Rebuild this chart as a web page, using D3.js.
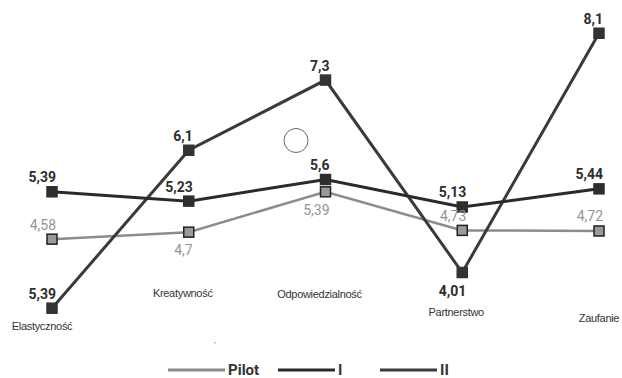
<!DOCTYPE html>
<html>
<head>
<meta charset="utf-8">
<script src="https://cdn.jsdelivr.net/npm/d3@7/dist/d3.min.js"></script>
<style>
  html, body { margin: 0; padding: 0; background: #fff; }
  svg { display: block; }
</style>
</head>
<body>
<svg id="chart" width="622" height="378"></svg>
<script>
// ---- data ----
const categories = ["Elastyczność", "Kreatywność", "Odpowiedzialność", "Partnerstwo", "Zaufanie"];
const seriesNames = ["Pilot", "I", "II"];
const pilotValues = [4.58, 4.7, 5.39, 4.73, 4.72];
const iValues = [5.39, 5.23, 5.6, 5.13, 5.44];
const iiValues = [3.4, 6.1, 7.3, 4.01, 8.1];          // plotted positions
const pilotLabels = ["4,58", "4,7", "5,39", "4,73", "4,72"];
const iLabels = ["5,39", "5,23", "5,6", "5,13", "5,44"];
const iiLabels = ["5,39", "6,1", "7,3", "4,01", "8,1"];

// ---- layout / style ----
const W = 622, H = 378;
const svg = d3.select("#chart");

const x = d3.scalePoint().domain(categories).range([52, 599]);
const y = d3.scaleLinear().domain([3, 8]).range([331.6, 39.1]);

const series = [
  { name: seriesNames[0], values: pilotValues, labels: pilotLabels, color: "#8c8c8c", width: 2.5,
    marker: "#9a9a9a", markerStroke: "#222", labelColor: "#959595", weight: 400,
    below: [false, true, true, false, false] },
  { name: seriesNames[1], values: iValues, labels: iLabels, color: "#2a2a2a", width: 3,
    marker: "#2e2e2e", markerStroke: "#2e2e2e", labelColor: "#2e2e2e", weight: 700,
    below: [false, false, false, false, false] },
  { name: seriesNames[2], values: iiValues, labels: iiLabels, color: "#3a3a3a", width: 3,
    marker: "#333", markerStroke: "#333", labelColor: "#2e2e2e", weight: 700,
    below: [false, false, false, true, false] }
];

// category label vertical positions (baseline, px)
const catLabelY = [330, 297, 298, 316, 322];

// decorative circle from the original picture
svg.append("circle").attr("cx", 296).attr("cy", 140.5).attr("r", 12)
  .attr("fill", "none").attr("stroke", "#666").attr("stroke-width", 1);
svg.append("rect").attr("x", 214).attr("y", 342).attr("width", 1.5).attr("height", 1.5).attr("fill", "#aaa");

const line = d3.line().x(d => x(d.c)).y(d => y(d.v));

// draw order: Pilot, II, I
[series[0], series[2], series[1]].forEach(s => {
  const pts = categories.map((c, i) => ({ c, v: s.values[i], lab: s.labels[i], below: s.below[i] }));
  const g = svg.append("g");
  g.append("path").datum(pts).attr("d", line)
    .attr("fill", "none").attr("stroke", s.color).attr("stroke-width", s.width)
    .attr("stroke-linejoin", "miter");
  g.selectAll("rect.m").data(pts).join("rect").attr("class", "m")
    .attr("x", d => x(d.c) - 5).attr("y", d => y(d.v) - 5)
    .attr("width", 10).attr("height", 10)
    .attr("fill", s.marker).attr("stroke", s.markerStroke).attr("stroke-width", 1.5);
});

// value labels
series.forEach(s => {
  const pts = categories.map((c, i) => ({ c, v: s.values[i], lab: s.labels[i], below: s.below[i] }));
  svg.append("g").selectAll("text").data(pts).join("text")
    .attr("x", d => x(d.c) + 4)
    .attr("y", d => d.below ? y(d.v) + 23 : y(d.v) - 9.5)
    .attr("text-anchor", "end")
    .attr("font-family", "Roboto, sans-serif")
    .attr("font-size", 14)
    .attr("font-weight", s.weight)
    .attr("fill", s.labelColor)
    .text(d => d.lab);
});

// category labels
svg.append("g").selectAll("text").data(categories).join("text")
  .attr("x", (d, i) => i === categories.length - 1 ? Math.min(x(d), W - 1 - 21) : x(d) - (i === 0 ? 10 : 6))
  .attr("y", (d, i) => catLabelY[i])
  .attr("text-anchor", "middle")
  .attr("font-family", "'Liberation Sans', Arial, sans-serif")
  .attr("font-size", 11)
  .attr("letter-spacing", -0.3)
  .attr("fill", "#333")
  .text(d => d);

// legend
const legendX = [168, 278, 380];
const legend = svg.append("g");
series.forEach((s, i) => {
  legend.append("line").attr("x1", legendX[i]).attr("x2", legendX[i] + 57)
    .attr("y1", 370).attr("y2", 370)
    .attr("stroke", s.color).attr("stroke-width", 3);
  legend.append("text").attr("x", legendX[i] + 60).attr("y", 374.5)
    .attr("font-family", "Roboto, sans-serif").attr("font-size", 15).attr("font-weight", 700)
    .attr("fill", "#333").text(s.name);
});
</script>
</body>
</html>
